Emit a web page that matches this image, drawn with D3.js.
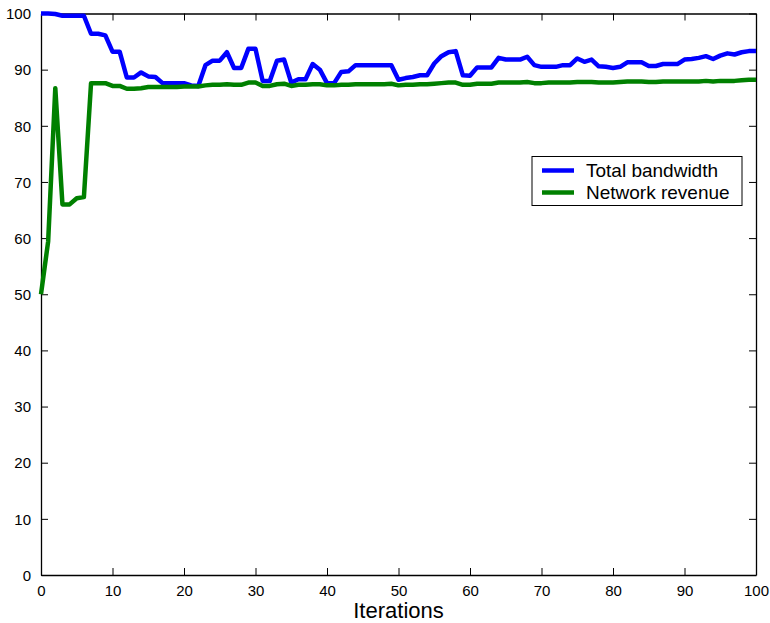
<!DOCTYPE html>
<html>
<head>
<meta charset="utf-8">
<script src="https://cdn.jsdelivr.net/npm/d3@7"></script>
<style>
  html, body { margin: 0; padding: 0; background: #fff; }
  svg { display: block; }
  text { font-family: "Liberation Sans", Arial, Helvetica, sans-serif; fill: #000; }
</style>
</head>
<body>
<svg id="chart" width="770" height="623"></svg>
<script>
// Iteration index 0..100
const iterations = d3.range(0, 101);

// Total bandwidth per iteration
const totalBandwidth = [
  100, 100, 99.9, 99.6, 99.6, 99.6, 99.6, 96.4, 96.4, 96.1,
  93.2, 93.2, 88.6, 88.6, 89.5, 88.8, 88.7, 87.6, 87.6, 87.6,
  87.6, 87.2, 87.1, 90.8, 91.6, 91.6, 93.1, 90.3, 90.3, 93.7,
  93.7, 88.0, 88.0, 91.6, 91.8, 87.7, 88.3, 88.3, 91.0, 90.0,
  87.6, 87.6, 89.6, 89.7, 90.8, 90.8, 90.8, 90.8, 90.8, 90.8,
  88.2, 88.5, 88.7, 89.0, 89.0, 91.1, 92.4, 93.1, 93.3, 89.0,
  88.9, 90.4, 90.4, 90.4, 92.1, 91.8, 91.8, 91.8, 92.3, 90.8,
  90.5, 90.5, 90.5, 90.8, 90.8, 92.0, 91.4, 91.8, 90.6, 90.5,
  90.3, 90.5, 91.3, 91.3, 91.3, 90.65, 90.65, 91.0, 91.0, 91.0,
  91.8, 91.9, 92.1, 92.4, 91.9, 92.5, 92.9, 92.7, 93.1, 93.3,
  93.3
];

// Network revenue per iteration
const networkRevenue = [
  50, 59.4, 86.7, 66.0, 66.0, 67.1, 67.3, 87.6, 87.6, 87.6,
  87.1, 87.1, 86.6, 86.6, 86.7, 86.9, 86.9, 86.9, 86.9, 86.9,
  87.0, 87.0, 87.0, 87.2, 87.3, 87.3, 87.4, 87.3, 87.3, 87.7,
  87.7, 87.1, 87.1, 87.4, 87.5, 87.1, 87.3, 87.3, 87.4, 87.4,
  87.2, 87.2, 87.3, 87.3, 87.4, 87.4, 87.4, 87.4, 87.4, 87.5,
  87.2, 87.3, 87.3, 87.4, 87.4, 87.5, 87.6, 87.7, 87.7, 87.3,
  87.3, 87.5, 87.5, 87.5, 87.7, 87.7, 87.7, 87.7, 87.8, 87.6,
  87.6, 87.7, 87.7, 87.7, 87.7, 87.8, 87.8, 87.8, 87.7, 87.7,
  87.7, 87.8, 87.9, 87.9, 87.9, 87.8, 87.8, 87.9, 87.9, 87.9,
  87.9, 87.9, 87.9, 88.0, 87.9, 88.0, 88.0, 88.0, 88.1, 88.2,
  88.2
];

const xTicks = [0, 10, 20, 30, 40, 50, 60, 70, 80, 90, 100];
const yTicks = [0, 10, 20, 30, 40, 50, 60, 70, 80, 90, 100];

const seriesNames = ["Total bandwidth", "Network revenue"];
const seriesColors = ["#0000ff", "#008000"];
const xLabel = "Iterations";

const svg = d3.select("#chart");
const margin = { left: 41, right: 14, top: 13.5, bottom: 48 };
const W = 770, H = 623;
const plotW = W - margin.left - margin.right;
const plotH = H - margin.top - margin.bottom;

const x = d3.scaleLinear().domain([0, 100]).range([margin.left, margin.left + plotW]);
const y = d3.scaleLinear().domain([0, 100]).range([margin.top + plotH, margin.top]);

const tickLen = 7;

// Box axes with inward ticks on all four sides
const bottomAxis = d3.axisBottom(x).tickValues(xTicks).tickSizeInner(-tickLen).tickSizeOuter(0).tickPadding(10);
const topAxis = d3.axisTop(x).tickValues(xTicks).tickSizeInner(-tickLen).tickSizeOuter(0).tickFormat("");
const leftAxis = d3.axisLeft(y).tickValues(yTicks).tickSizeInner(-tickLen).tickSizeOuter(0).tickPadding(10);
const rightAxis = d3.axisRight(y).tickValues(yTicks).tickSizeInner(-tickLen).tickSizeOuter(0).tickFormat("");

function styleAxis(g) {
  g.select(".domain").attr("stroke", "#000").attr("stroke-width", 1.3);
  g.selectAll(".tick line").attr("stroke", "#000").attr("stroke-width", 1);
  g.selectAll(".tick text").attr("font-size", 15).attr("fill", "#000")
    .style("font-family", '"Liberation Sans", Arial, sans-serif');
}

svg.append("g").attr("transform", `translate(0,${margin.top + plotH})`).call(bottomAxis).call(styleAxis);
svg.append("g").attr("transform", `translate(0,${margin.top})`).call(topAxis).call(styleAxis);
svg.append("g").attr("transform", `translate(${margin.left},0)`).call(leftAxis).call(styleAxis)
  .selectAll(".tick text").attr("dy", "0.35em");
svg.append("g").attr("transform", `translate(${margin.left + plotW},0)`).call(rightAxis).call(styleAxis);

// Series lines
const line = d3.line().x((d, i) => x(iterations[i])).y(d => y(d));
[totalBandwidth, networkRevenue].forEach((vals, k) => {
  svg.append("path")
    .datum(vals)
    .attr("fill", "none")
    .attr("stroke", seriesColors[k])
    .attr("stroke-width", 4.5)
    .attr("stroke-linejoin", "round")
    .attr("d", line);
});

// X axis title
svg.append("text")
  .attr("x", margin.left + plotW / 2)
  .attr("y", 618)
  .attr("text-anchor", "middle")
  .attr("font-size", 22)
  .text(xLabel);

// Legend
const legend = svg.append("g").attr("transform", "translate(532,156.5)");
legend.append("rect")
  .attr("width", 210).attr("height", 49)
  .attr("fill", "#fff").attr("stroke", "#000").attr("stroke-width", 1);
seriesNames.forEach((name, k) => {
  const cy = 14 + k * 22;
  legend.append("line")
    .attr("x1", 10).attr("x2", 42).attr("y1", cy).attr("y2", cy)
    .attr("stroke", seriesColors[k]).attr("stroke-width", 4.5);
  legend.append("text")
    .attr("x", 54).attr("y", cy + 6.5)
    .attr("font-size", 19)
    .text(name);
});
</script>
</body>
</html>
